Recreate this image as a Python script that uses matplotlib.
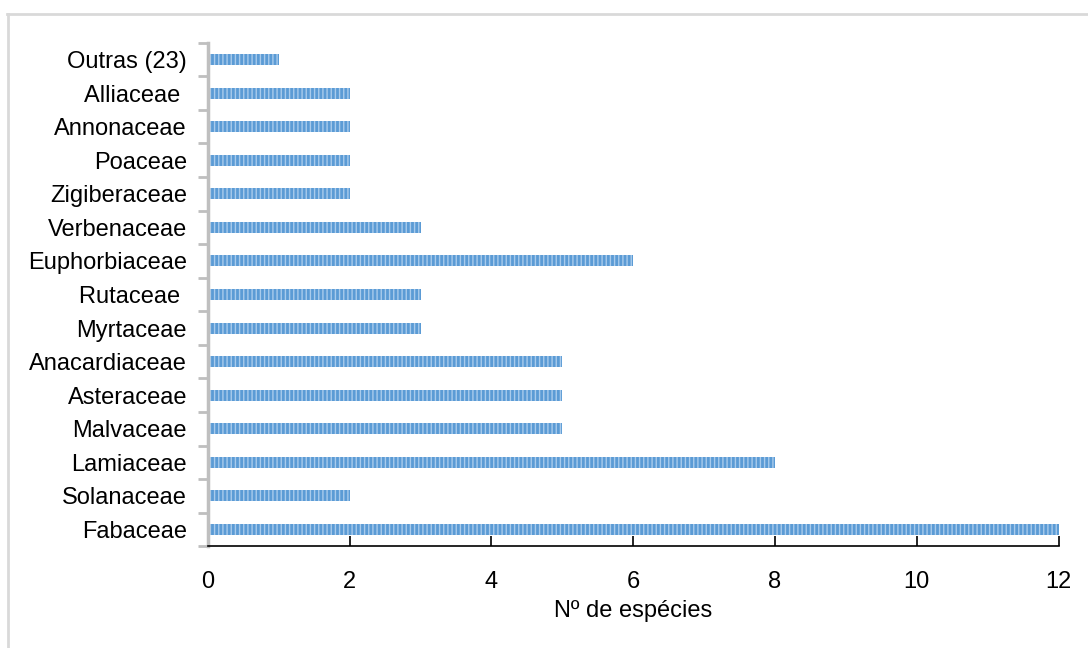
import matplotlib
matplotlib.use("Agg")
import matplotlib.pyplot as plt
from matplotlib.lines import Line2D

families = ["Fabaceae", "Solanaceae", "Lamiaceae", "Malvaceae", "Asteraceae",
            "Anacardiaceae", "Myrtaceae", "Rutaceae ", "Euphorbiaceae", "Verbenaceae",
            "Zigiberaceae", "Poaceae", "Annonaceae", "Alliaceae ", "Outras (23)"]
n_species = [12, 2, 8, 5, 5, 5, 3, 3, 6, 3, 2, 2, 2, 2, 1]

plt.rcParams["font.family"] = ["Liberation Sans", "DejaVu Sans"]
plt.rcParams["hatch.color"] = "#a9cbec"
plt.rcParams["hatch.linewidth"] = 1.0

fig = plt.figure(figsize=(10.88, 6.48), dpi=100)
ax = fig.add_axes([0.191, 0.157, 0.782, 0.777])

ypos = list(range(len(families)))
ax.barh(ypos, n_species, height=0.33, color="#5b9bd5", hatch="||||",
        edgecolor="#a9cbec", linewidth=0)

ax.set_xlim(0, 12)
ax.set_ylim(-0.5, len(families) - 0.5)
ax.set_yticks(ypos)
ax.set_yticklabels(families, fontsize=17)
ax.set_xticks(range(0, 13, 2))
ax.tick_params(axis="x", labelsize=17, direction="in", length=7, width=1.2, pad=18, color="black")
ax.set_yticks([i - 0.5 for i in range(len(families) + 1)], minor=True)
ax.tick_params(axis="y", which="minor", length=7, width=2, color="#bfbfbf")
ax.tick_params(axis="y", which="major", length=0, pad=15)
ax.set_xlabel("Nº de espécies", fontsize=17, labelpad=5)

for s in ["top", "right"]:
    ax.spines[s].set_visible(False)
ax.spines["left"].set_color("#bfbfbf")
ax.spines["left"].set_linewidth(2.5)
ax.spines["bottom"].set_color("black")
ax.spines["bottom"].set_linewidth(1.2)

# moldura cinza (só topo e esquerda visíveis)
fig.add_artist(Line2D([7 / 1088, 1], [1 - 14 / 648, 1 - 14 / 648], color="#d9d9d9", lw=2))
fig.add_artist(Line2D([7.5 / 1088, 7.5 / 1088], [0, 1 - 14 / 648], color="#d9d9d9", lw=2))

fig.savefig("out.png", dpi=100)
